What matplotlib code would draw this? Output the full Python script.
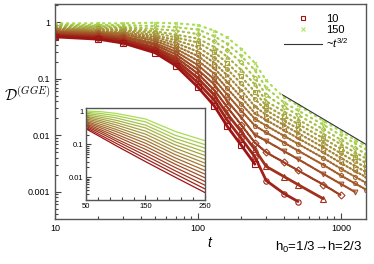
import numpy as np
import matplotlib
matplotlib.use('Agg')
import matplotlib.pyplot as plt
import matplotlib.lines as mlines
from matplotlib.ticker import LogLocator, NullFormatter, FixedLocator

plt.rcParams['font.family'] = ['Liberation Sans', 'DejaVu Sans']
plt.rcParams['mathtext.fontset'] = 'custom'
plt.rcParams['mathtext.rm'] = 'Liberation Sans'
plt.rcParams['mathtext.it'] = 'Liberation Sans:italic'

# subsystem sizes, red (10) -> green (150)
sizes = [10, 20, 30, 40, 50, 60, 70, 80, 90, 100, 110, 120, 130, 140, 150]

# main panel: times and log10 D^(GGE) (lists stop where a series ends)
t_main = [10, 20, 30, 50, 70, 100, 130, 160, 200, 250, 300, 400, 500, 750, 1000, 1250, 1500]
logD_main = [
    [-0.26, -0.30, -0.37, -0.54, -0.77, -1.15, -1.48, -1.84, -2.17, -2.51],
    [-0.24, -0.28, -0.35, -0.50, -0.72, -1.07, -1.38, -1.73, -2.05, -2.38, -2.80, -3.03, -3.17],
    [-0.23, -0.26, -0.32, -0.47, -0.67, -0.99, -1.29, -1.62, -1.93, -2.25, -2.55, -2.73, -2.87, -3.12],
    [-0.21, -0.24, -0.30, -0.44, -0.62, -0.91, -1.20, -1.50, -1.81, -2.13, -2.30, -2.48, -2.62, -2.87, -3.06],
    [-0.19, -0.22, -0.27, -0.40, -0.57, -0.84, -1.10, -1.39, -1.68, -1.99, -2.10, -2.28, -2.42, -2.68, -2.86, -3.00],
    [-0.17, -0.20, -0.25, -0.37, -0.52, -0.76, -1.01, -1.28, -1.56, -1.83, -1.95, -2.13, -2.27, -2.52, -2.71, -2.85, -2.96],
    [-0.16, -0.18, -0.22, -0.33, -0.47, -0.68, -0.91, -1.17, -1.44, -1.71, -1.83, -2.01, -2.15, -2.40, -2.59, -2.73, -2.84],
    [-0.14, -0.165, -0.20, -0.295, -0.42, -0.60, -0.815, -1.055, -1.32, -1.61, -1.73, -1.91, -2.05, -2.30, -2.49, -2.63, -2.74],
    [-0.12, -0.15, -0.18, -0.26, -0.37, -0.52, -0.72, -0.94, -1.20, -1.49, -1.64, -1.82, -1.96, -2.21, -2.40, -2.54, -2.65],
    [-0.11, -0.13, -0.15, -0.23, -0.32, -0.44, -0.63, -0.83, -1.08, -1.36, -1.56, -1.74, -1.88, -2.13, -2.32, -2.46, -2.57],
    [-0.09, -0.11, -0.13, -0.19, -0.27, -0.36, -0.53, -0.72, -0.96, -1.23, -1.48, -1.66, -1.80, -2.05, -2.24, -2.38, -2.49],
    [-0.07, -0.09, -0.10, -0.16, -0.22, -0.29, -0.44, -0.61, -0.84, -1.10, -1.40, -1.58, -1.72, -1.97, -2.16, -2.30, -2.41],
    [-0.05, -0.07, -0.08, -0.12, -0.15, -0.21, -0.34, -0.49, -0.71, -0.98, -1.29, -1.50, -1.64, -1.89, -2.08, -2.22, -2.33],
    [-0.04, -0.05, -0.05, -0.07, -0.09, -0.13, -0.25, -0.38, -0.59, -0.85, -1.16, -1.42, -1.56, -1.81, -2.00, -2.14, -2.25],
    [-0.02, -0.02, -0.02, -0.01, -0.02, -0.05, -0.15, -0.27, -0.47, -0.72, -1.03, -1.33, -1.47, -1.74, -1.93, -2.08, -2.19],
]

# ~t^-3/2 guide line (start, end) and its amplitude at the start
guide_t = [390, 1500]
guide_D0 = 0.052

# inset: linear time axis
t_in = [50, 75, 100, 150, 200, 250]
D_in = [
    [0.30, 0.168, 0.093, 0.030, 0.010, 0.0034],
    [0.33, 0.19, 0.11, 0.037, 0.0126, 0.0044],
    [0.36, 0.22, 0.13, 0.046, 0.0157, 0.0057],
    [0.39, 0.25, 0.15, 0.057, 0.0198, 0.0074],
    [0.43, 0.28, 0.18, 0.071, 0.025, 0.0096],
    [0.47, 0.32, 0.21, 0.088, 0.031, 0.0124],
    [0.51, 0.36, 0.25, 0.109, 0.039, 0.016],
    [0.56, 0.41, 0.29, 0.135, 0.049, 0.021],
    [0.61, 0.47, 0.34, 0.167, 0.061, 0.027],
    [0.67, 0.53, 0.40, 0.207, 0.077, 0.035],
    [0.73, 0.60, 0.47, 0.256, 0.097, 0.046],
    [0.80, 0.68, 0.55, 0.32, 0.121, 0.059],
    [0.88, 0.77, 0.65, 0.39, 0.152, 0.077],
    [0.96, 0.88, 0.76, 0.49, 0.191, 0.099],
    [1.05, 1.00, 0.89, 0.60, 0.25, 0.13],
]

red = np.array([0.62, 0.08, 0.08])
green = np.array([0.66, 0.87, 0.32])
def col(i):
    f = i / (len(sizes) - 1)
    return tuple(red + f * (green - red))

markers = ['s', 'o', '^', 'D', 'v', 'p', 'h', '<', '>', 'o', 's', '^', 'D', 'v', 'x']

fig = plt.figure(figsize=(3.74, 2.64), dpi=100)
ax = fig.add_axes([0.147, 0.170, 0.832, 0.815])

for i in range(len(sizes) - 1, -1, -1):
    n = len(logD_main[i])
    D = 10 ** np.array(logD_main[i])
    # dense marker runs look solid for small sizes and dotted for large ones
    if i < 3:
        ax.plot(t_main[:n], D, color=col(i), lw=2.0, solid_capstyle='round')
    else:
        gap = 0.15 * (i - 2) + 0.3
        ax.plot(t_main[:n], D, color=col(i), lw=1.6, ls=(0, (0.6, gap)),
                dash_capstyle='round')
    ms = 4.0 - 2.0 * i / 14
    ax.plot(t_main[:n], D, ls='none', marker=markers[i], ms=ms, mfc='none',
            mec=col(i), mew=0.8)

tg = np.array(guide_t, dtype=float)
ax.plot(tg, guide_D0 * (tg / tg[0]) ** -1.5, color='#333333', lw=0.8)

ax.set_xscale('log')
ax.set_yscale('log')
ax.set_xlim(10, 1500)
ax.set_ylim(3.3e-4, 2.1)
ax.set_xticks([10, 100, 1000])
ax.set_xticklabels(['10', '100', '1000'])
ax.set_yticks([0.001, 0.01, 0.1, 1])
ax.set_yticklabels(['0.001', '0.01', '0.1', '1'])
ax.xaxis.set_minor_locator(LogLocator(base=10, subs=np.arange(2, 10)))
ax.yaxis.set_minor_locator(LogLocator(base=10, subs=np.arange(2, 10)))
ax.xaxis.set_minor_formatter(NullFormatter())
ax.yaxis.set_minor_formatter(NullFormatter())
ax.tick_params(which='both', direction='in', top=False, right=False, labelsize=6.5,
               color='#444444', width=0.8)
ax.tick_params(which='major', length=4)
ax.tick_params(which='minor', length=2)
for s in ax.spines.values():
    s.set_color('#555555')
    s.set_linewidth(1.0)

h1 = mlines.Line2D([], [], ls='none', marker='s', ms=3.5, mfc='none', mec=col(0), mew=0.8)
h2 = mlines.Line2D([], [], ls='none', marker='x', ms=2.2, mec=col(14), mew=0.7)
h3 = mlines.Line2D([], [], color='#333333', lw=0.8)
ax.legend([h1, h2, h3], ['10', '150', r'~$t^{3/2}$'], loc='upper right',
          bbox_to_anchor=(0.97, 0.99), frameon=False, fontsize=8, handlelength=3.4,
          handletextpad=0.4, labelspacing=0.1, borderpad=0.2)

fig.text(0.012, 0.64, r'$\mathcal{D}^{(GGE)}$', fontsize=11, va='center', ha='left',
         math_fontfamily='cm')
fig.text(0.56, 0.065, 't', fontsize=10, ha='center', style='italic')
fig.text(0.968, 0.05, 'h$_0$=1/3\u2192h=2/3', fontsize=9.5, ha='right')

# inset
ins = fig.add_axes([0.230, 0.242, 0.318, 0.349])
for i in range(len(sizes) - 1, -1, -1):
    ins.plot(t_in, D_in[i], color=col(i), lw=0.9)
ins.set_yscale('log')
ins.set_xlim(50, 250)
ins.set_ylim(0.002, 1.3)
ins.xaxis.set_major_locator(FixedLocator([50, 150, 250]))
ins.xaxis.set_minor_locator(FixedLocator(np.arange(50, 251, 20)))
ins.set_yticks([0.01, 0.1, 1])
ins.set_yticklabels(['0.01', '0.1', '1'])
ins.yaxis.set_minor_locator(LogLocator(base=10, subs=np.arange(2, 10)))
ins.yaxis.set_minor_formatter(NullFormatter())
ins.tick_params(which='both', direction='in', top=False, right=False, labelsize=5.5,
                color='#444444', width=0.8, pad=2)
ins.tick_params(which='major', length=3.5)
ins.tick_params(which='minor', length=2)
for s in ins.spines.values():
    s.set_color('#555555')
    s.set_linewidth(1.0)

fig.savefig('out.png', dpi=100)
